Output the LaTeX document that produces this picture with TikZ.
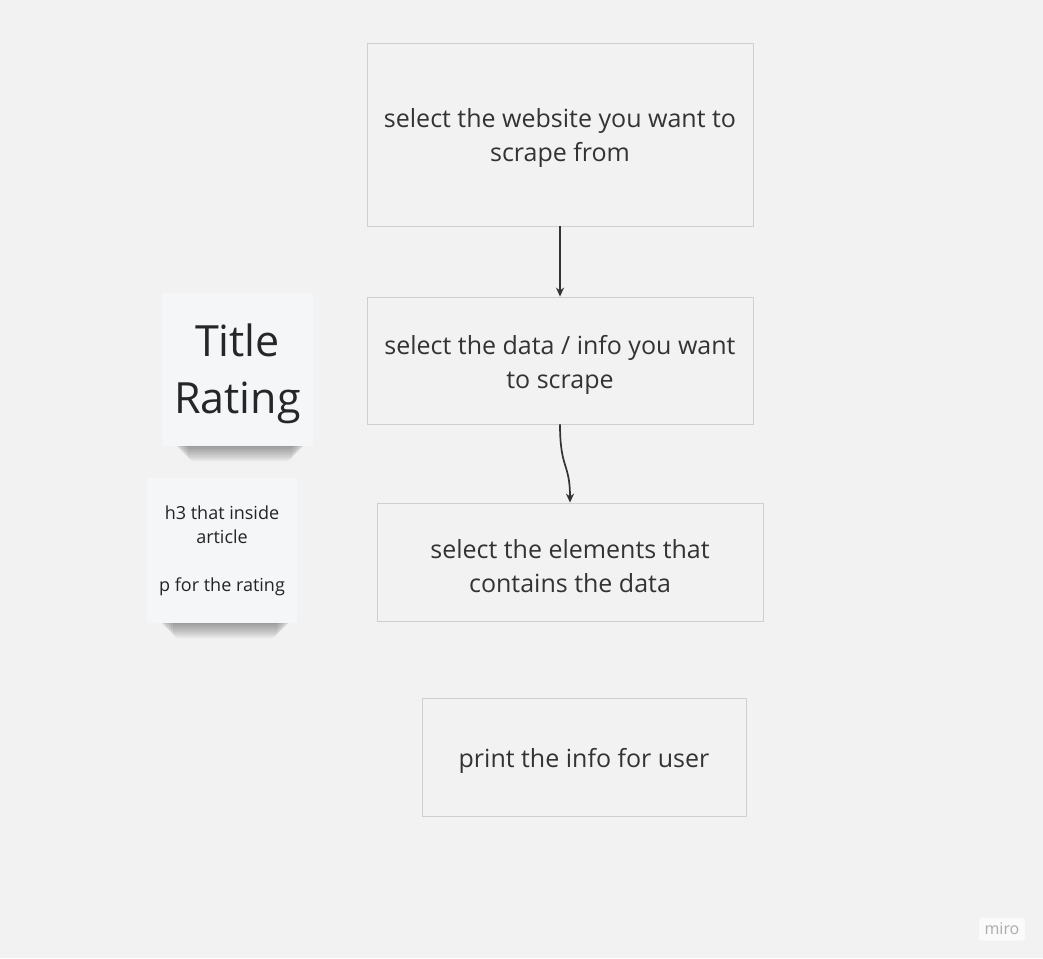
\documentclass[tikz,border=0pt]{standalone}
\usepackage{fontspec}
\setmainfont{Open Sans}
\usetikzlibrary{arrows.meta,positioning,calc}
\definecolor{boardbg}{HTML}{F2F2F2}
\definecolor{boxline}{HTML}{CFCFCF}
\definecolor{inkdark}{HTML}{333333}
\definecolor{notefill}{HTML}{F5F6F8}
\definecolor{markgray}{HTML}{ABABAB}
\newcommand{\boxstrut}{\rule{0pt}{27pt}}
\tikzset{
  stepbox/.style={draw=boxline, fill=boardbg, line width=0.8pt, align=center,
    font=\fontsize{25}{34}\selectfont, text=inkdark, inner sep=0pt},
  sticky/.style={fill=notefill, align=center, inner sep=0pt, text=inkdark!70!black},
  flow/.style={-{Stealth[length=9pt,width=8pt]}, line width=1.7pt, color=inkdark},
  brand/.style={fill=white!60!boardbg, rounded corners=3pt, font=\fontsize{16}{18}\selectfont,
    text=markgray, minimum width=46pt, minimum height=23pt},
}
\begin{document}
\begin{tikzpicture}[x=1pt,y=-1pt]
  \fill[boardbg] (0,0) rectangle (1043,958);
  \useasboundingbox (0,0) rectangle (1043,958);
  % flow boxes
  \node[stepbox, minimum width=386pt, minimum height=183pt] (site) at (560,134.5)
    {\boxstrut select the website you want to\\scrape from};
  \node[stepbox, minimum width=386pt, minimum height=127pt] (data) at (560,360.5)
    {\boxstrut select the data / info you want\\to scrape};
  \node[stepbox, minimum width=386pt, minimum height=118pt] (elems) at (570,562)
    {\boxstrut select the elements that\\contains the data};
  \node[stepbox, minimum width=324pt, minimum height=118pt] (print) at (584,757)
    {\boxstrut print the info for user};
  % sticky shadows
  \foreach \i in {0,...,7} {
    \fill[black, opacity=0.05, rounded corners=6pt]
      (174+2*\i,438) rectangle (306-2*\i,447+2*\i);
    \fill[black, opacity=0.05, rounded corners=6pt]
      (159+2*\i,615) rectangle (291-2*\i,624+2*\i);
  }
  % sticky notes
  \node[sticky, minimum width=151pt, minimum height=153pt,
    font=\fontsize{43}{57}\selectfont, text=black!85] (fields) at (237.5,369.5)
    {\rule{0pt}{41pt}Title\\Rating};
  \node[sticky, minimum width=150pt, minimum height=145pt,
    font=\fontsize{18}{24}\selectfont] (tags) at (222,550.5)
    {h3 that inside\\article\\[24pt]p for the rating};
  % connectors
  \draw[flow] (site.south) -- (data.north);
  \draw[flow] (data.south) .. controls +(0,45) and +(0,-40) .. (elems.north);
  % watermark
  \node[brand] (mark) at (1002,929) {miro};
\end{tikzpicture}
\end{document}
